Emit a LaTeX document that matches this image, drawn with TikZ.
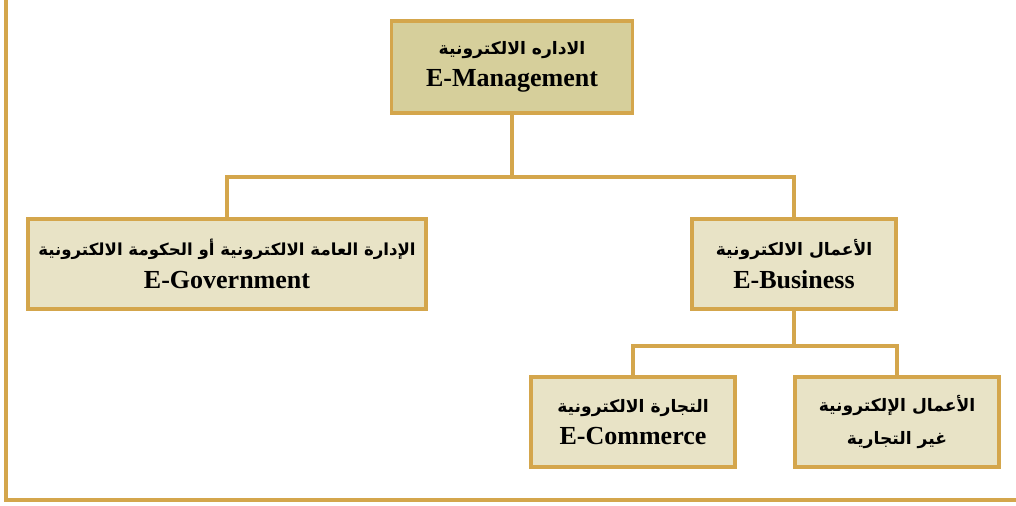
\documentclass[tikz,border=0pt]{standalone}
\usepackage{fontspec}
\setmainfont{Liberation Serif}
\newfontfamily\arabicfont[Script=Arabic]{DejaVu Sans}
\TeXXeTstate=1
\definecolor{gold}{HTML}{D4A64C}
\definecolor{topfill}{HTML}{D6CF9B}
\definecolor{boxfill}{HTML}{E8E3C6}
\newcommand{\artext}[1]{{\arabicfont\bfseries\fontsize{12.2}{24}\selectfont\beginR #1\endR}}
\tikzset{
  unitbox/.style={draw=gold, line width=2.6pt, fill=boxfill, align=center, inner sep=0pt,
    minimum width=5.1cm, minimum height=2.25cm, font=\fontsize{18.5}{23}\selectfont\bfseries},
  link/.style={draw=gold, line width=2.3pt},
}

\begin{document}
\begin{tikzpicture}[x=0.025cm, y=-0.025cm]
			%%%%% START %%%%%
			\useasboundingbox (0, 0) rectangle (1016, 505);
			
			\draw[gold, line width=2.3pt] (6, 0) -- (6, 500) -- (1016, 500);
			
			\node[unitbox, fill=topfill, minimum width=6.03cm, minimum height=2.3cm] (mgmt) at (512, 67)
				{\artext{الاداره الالكترونية}\\E-Management};
			
			\node[unitbox, minimum width=9.95cm] (gov) at (227, 264)
				{{\arabicfont\bfseries\fontsize{11.8}{24}\selectfont\beginR الإدارة العامة الالكترونية أو الحكومة الالكترونية\endR}\\E-Government};
			\node[unitbox] (bus) at (794, 264)
				{\artext{الأعمال الالكترونية}\\E-Business};
			
			\node[unitbox] (com) at (633, 422)
				{\artext{التجارة الالكترونية}\\E-Commerce};
			\node[unitbox] (noncom) at (897, 422)
				{\artext{الأعمال الإلكترونية}\\\artext{غير التجارية}};
			
			\coordinate (fork1) at (512, 177);
			\coordinate (fork2) at (794, 346);
			\draw[link] (mgmt.south) -- (fork1);
			\draw[link] (gov.north) |- (fork1) -| (bus.north);
			\draw[link] (bus.south) -- (fork2);
			\draw[link] (com.north) |- (fork2) -| (noncom.north);
			
			%%%%% END %%%%%
\end{tikzpicture}
\end{document}
